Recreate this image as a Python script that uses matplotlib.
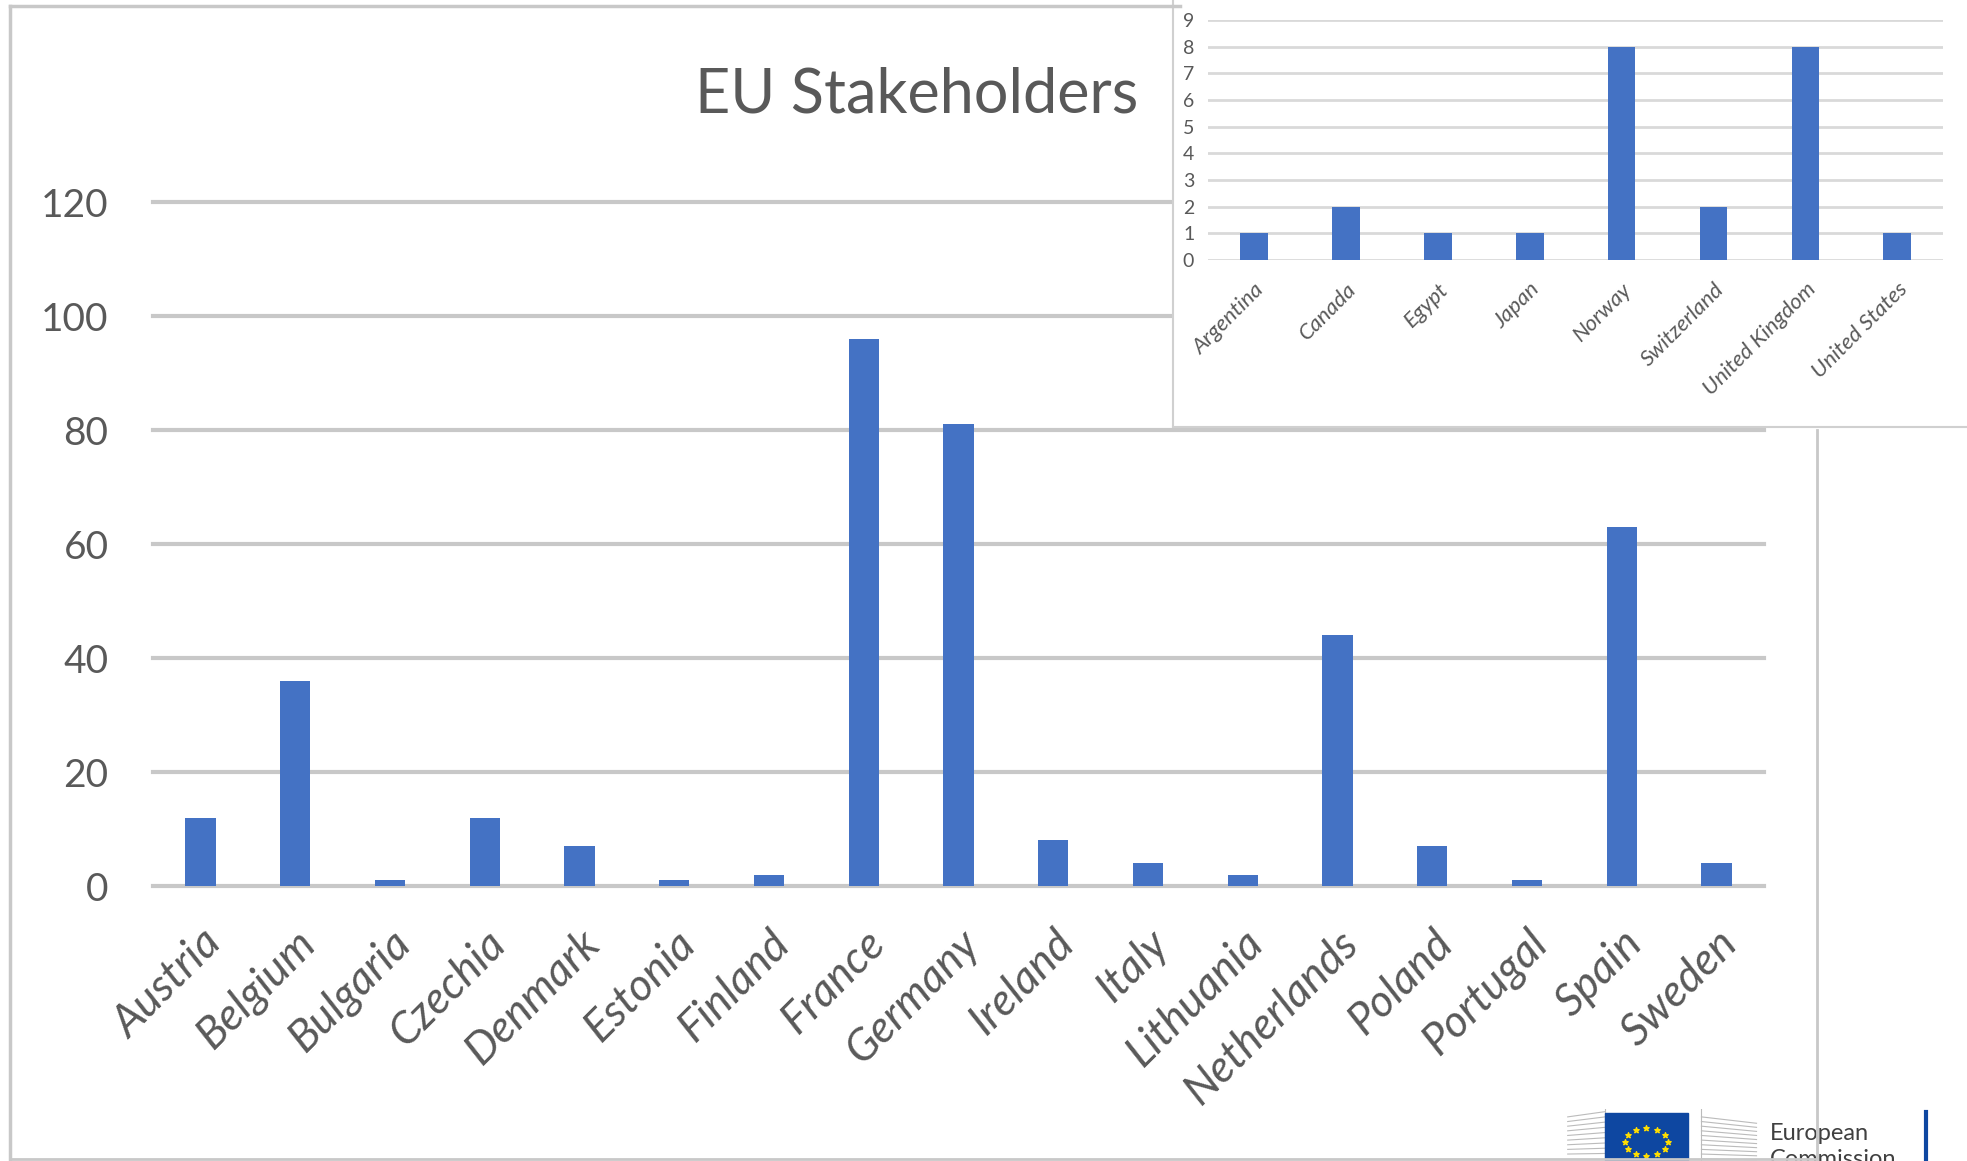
import numpy as np
import matplotlib.pyplot as plt
from matplotlib.lines import Line2D
from matplotlib.patches import Rectangle

plt.rcParams['font.family'] = ['Lato', 'DejaVu Sans']

# ----------------------
# Data
# ----------------------
eu_countries = ['Austria', 'Belgium', 'Bulgaria', 'Czechia', 'Denmark', 'Estonia',
                'Finland', 'France', 'Germany', 'Ireland', 'Italy', 'Lithuania',
                'Netherlands', 'Poland', 'Portugal', 'Spain', 'Sweden']
eu_counts = [12, 36, 1, 12, 7, 1, 2, 96, 81, 8, 4, 2, 44, 7, 1, 63, 4]

other_countries = ['Argentina', 'Canada', 'Egypt', 'Japan', 'Norway',
                   'Switzerland', 'United Kingdom', 'United States']
other_counts = [1, 2, 1, 1, 8, 2, 8, 1]

bar_color = '#4472C4'
text_color = '#595959'
grid_color = '#c8c8c8'

fig = plt.figure(figsize=(19.67, 11.61), dpi=100)

# ----------------------
# Main chart
# ----------------------
ax = fig.add_axes([0.0778, 0.2368, 0.8189, 0.5892])
x = np.arange(len(eu_countries))
ax.bar(x, eu_counts, width=0.32, color=bar_color, zorder=3)
ax.set_xlim(-0.5, len(eu_countries) - 0.5)
ax.set_ylim(0, 120)
ax.set_yticks(range(0, 121, 20))
for v in range(0, 121, 20):
    ax.axhline(v, color=grid_color, lw=3, zorder=1, clip_on=False)
for s in ax.spines.values():
    s.set_visible(False)
ax.tick_params(axis='both', length=0, labelcolor=text_color)
ax.tick_params(axis='y', labelsize=28, pad=32)
ax.set_xticks(x)
ax.set_xticklabels(eu_countries, rotation=45, ha='right', rotation_mode='anchor',
                   fontsize=32, style='italic')
ax.tick_params(axis='x', pad=26)
fig.text(0.466, 0.918, 'EU Stakeholders', ha='center', va='center',
         fontsize=44, color=text_color)

# frame lines of the main chart picture
fig.add_artist(Line2D([0.0051, 0.0051], [0.0, 0.995], color='#c8c8c8', lw=2.5))
fig.add_artist(Line2D([0.0051, 0.6], [0.995, 0.995], color='#c8c8c8', lw=2.5))
fig.add_artist(Line2D([0.9235, 0.9235], [0.0, 0.63], color='#c8c8c8', lw=2))
fig.add_artist(Line2D([0.0051, 0.9235], [0.002, 0.002], color='#c8c8c8', lw=2))

# ----------------------
# Inset box (non-EU)
# ----------------------
box = fig.add_axes([0.5963, 0.6324, 0.4037, 0.3676])
box.set_facecolor('white')
box.set_xticks([])
box.set_yticks([])
for name, s in box.spines.items():
    s.set_visible(name in ('left', 'bottom'))
    s.set_color('#d0d0d0')
    s.set_linewidth(1.5)

ax2 = fig.add_axes([0.6142, 0.7762, 0.3737, 0.2065])
x2 = np.arange(len(other_countries))
ax2.bar(x2, other_counts, width=0.3, color=bar_color, zorder=3)
ax2.set_xlim(-0.5, len(other_countries) - 0.5)
ax2.set_ylim(0, 9)
ax2.set_yticks(range(0, 10))
ax2.grid(axis='y', color='#d9d9d9', lw=2, zorder=1)
ax2.set_axisbelow(True)
ax2.patch.set_alpha(0)
for s in ax2.spines.values():
    s.set_visible(False)
ax2.tick_params(axis='both', length=0, labelcolor=text_color)
ax2.tick_params(axis='y', labelsize=14, pad=10)
ax2.set_xticks(x2)
ax2.set_xticklabels(other_countries, rotation=45, ha='right', rotation_mode='anchor',
                    fontsize=16, style='italic')
ax2.tick_params(axis='x', pad=14)

# ----------------------
# European Commission logo (rough)
# ----------------------
logo = fig.add_axes([0.796, 0.0, 0.2, 0.045])
logo.set_xlim(0, 200)
logo.set_ylim(0, 45)
logo.axis('off')
for i in range(10):
    logo.plot([1, 20], [2 + i * 4, 2 + i * 4 + i * 0.5], color='#bbbbbb', lw=0.8)
    logo.plot([69, 97], [2 + i * 4, 1 + i * 3.5], color='#bbbbbb', lw=0.8)
logo.plot([20, 20], [0, 45], color='#bbbbbb', lw=0.8)
logo.plot([69, 69], [0, 45], color='#bbbbbb', lw=0.8)
logo.add_patch(Rectangle((20, 0), 42, 41, color='#0e47a1', zorder=3))
ang = np.linspace(0, 2 * np.pi, 12, endpoint=False)
logo.scatter(41 + 11 * np.cos(ang), 16 + 12 * np.sin(ang), marker='*', s=16,
             color='#ffdd00', zorder=5)
logo.text(104, 24, 'European', fontsize=17, color='#404040', va='center')
logo.text(104, 1, 'Commission', fontsize=17, color='#404040', va='center')
logo.plot([183, 183], [0, 42], color='#0e47a1', lw=3)

fig.savefig('out.png', dpi=100)
